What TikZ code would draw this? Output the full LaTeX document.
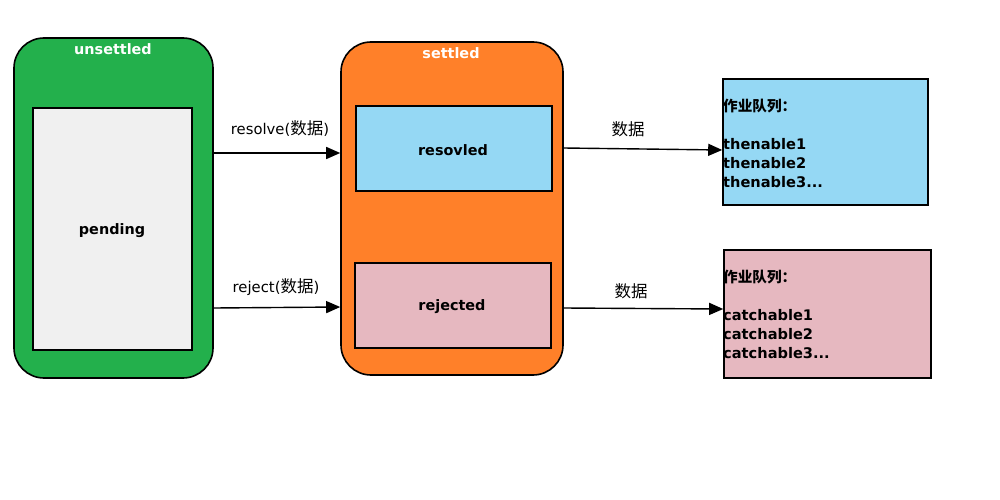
\documentclass[tikz,border=0pt]{standalone}
\usepackage{fontspec}
\setmainfont{DejaVu Sans}
\newfontfamily\cjk{Noto Sans CJK SC}
\usetikzlibrary{arrows.meta}
\definecolor{cgreen}{RGB}{35,176,76}
\definecolor{corange}{RGB}{255,128,41}
\definecolor{cblue}{RGB}{149,216,244}
\definecolor{cpink}{RGB}{230,184,192}
\definecolor{cgrey}{RGB}{240,240,240}
\tikzset{
  outer/.style={draw=black, line width=1.6pt, rounded corners=30pt, inner sep=0pt},
  inner/.style={draw=black, line width=1.6pt, inner sep=0pt},
  intext/.style={inner sep=0pt, font=\bfseries\fontsize{14.4}{16}\selectfont},
  queue/.style={draw=black, line width=1.6pt, inner sep=0pt},
  qtext/.style={align=left, inner sep=0pt, anchor=west, font=\bfseries\fontsize{14.6}{19}\selectfont},
  title/.style={text=white, font=\bfseries\fontsize{14.4}{16}\selectfont, inner sep=0pt},
  lbl/.style={font=\fontsize{14.8}{16}\selectfont, inner sep=0pt},
  arr/.style={line width=1.4pt, -{Triangle[length=14pt,width=12pt]}},
}
\newcommand{\zh}[1]{{\cjk\fontsize{16.5}{16}\selectfont #1}}
\begin{document}
\begin{tikzpicture}[x=1pt,y=-1pt]
\useasboundingbox (0,0) rectangle (1000,500);
% outer containers
\node[outer, fill=cgreen, minimum width=199pt, minimum height=340pt] (unsettled) at (113.5,208) {};
\node[title] (ut) at (113,49) {unsettled};
\node[outer, fill=corange, minimum width=222pt, minimum height=333pt] (settled) at (452,208.5) {};
\node[title] (st) at (451,53) {settled};
% inner boxes
\node[inner, fill=cgrey, minimum width=159pt, minimum height=242pt] (pending) at (112.5,229) {};
\node[intext] (pt) at (112,231) {pending};
\node[inner, fill=cblue, minimum width=196pt, minimum height=85pt] (resolved) at (454,148.5) {};
\node[intext] (rt) at (453,150) {resovled};
\node[inner, fill=cpink, minimum width=196pt, minimum height=85pt] (rejected) at (453,305.5) {};
\node[intext] (jt) at (452,307) {rejected};
% queues
\node[queue, fill=cblue, minimum width=205pt, minimum height=126pt] (q1) at (825.5,142) {};
\node[qtext] (q1t) at (723,143.5) {{\cjk 作业队列：}\\~\\thenable1\\thenable2\\thenable3...};
\node[queue, fill=cpink, minimum width=207pt, minimum height=128pt] (q2) at (827.5,314) {};
\node[qtext] (q2t) at (723,314.5) {{\cjk 作业队列：}\\~\\catchable1\\catchable2\\catchable3...};
% arrows
\draw[arr] (unsettled.east |- 0,153) -- (settled.west |- 0,153);
\draw[arr] (unsettled.east |- 0,308) -- (settled.west |- 0,307);
\draw[arr] (settled.east |- 0,148) -- (q1.west |- 0,150);
\draw[arr] (settled.east |- 0,308) -- (q2.west |- 0,309);
% labels
\node[lbl] (l1) at (280,129) {resolve(\zh{数据})};
\node[lbl] (l2) at (276,287) {reject(\zh{数据})};
\node[lbl] (l3) at (628,129) {\zh{数据}};
\node[lbl] (l4) at (631,291) {\zh{数据}};
\end{tikzpicture}
\end{document}
